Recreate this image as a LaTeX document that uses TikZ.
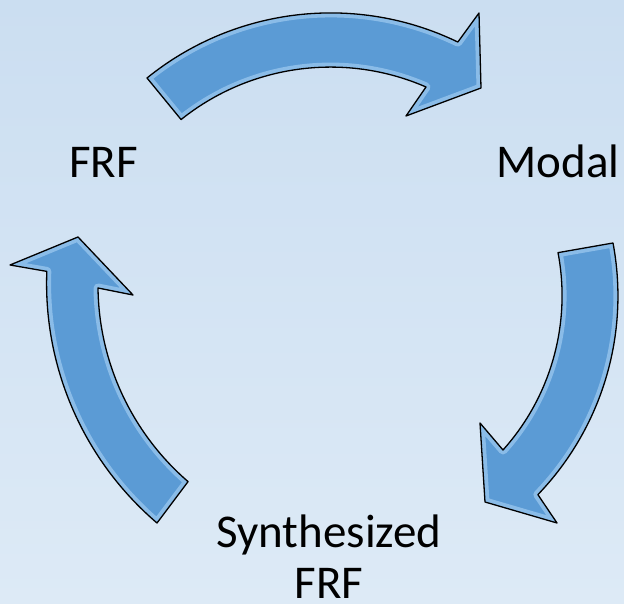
\documentclass[tikz,border=0pt]{standalone}
\usepackage{fontspec}
\setmainfont{Carlito}
\definecolor{bgtop}{HTML}{CBDEF1}
\definecolor{bgbot}{HTML}{DDEAF6}
\definecolor{arrowblue}{HTML}{5B9BD5}
\definecolor{rimblue}{HTML}{B2D8F8}
\tikzset{
  lbl/.style={font=\fontsize{47}{56}\selectfont, anchor=base, inner sep=0pt, text=black},
  arrowfill/.style={fill=arrowblue},
  arrowrim/.style={draw=rimblue, line width=9pt, opacity=0.55, line join=round},
  arrowline/.style={draw=black, line width=1.3pt, line join=round}
}
\newcommand\glossyarrow[1]{%
  \path[arrowfill] #1;
  \begin{scope}
    \clip #1;
    \path[arrowrim] #1;
  \end{scope}
  \path[arrowline] #1;
}
\begin{document}
\begin{tikzpicture}[x=1pt,y=1pt]
\useasboundingbox (0,0) rectangle (624,604);
\shade[top color=bgtop,bottom color=bgbot] (0,0) rectangle (624,604);

% top arrow (FRF -> Modal)
\glossyarrow{(147,526) arc[start angle=129, end angle=64.2, radius=292pt] -- (479,591) -- (481,516) -- (406,488) -- (426,517) arc[start angle=66.45, end angle=128.7, radius=239pt] -- cycle}

% right arrow (Modal -> Synthesized FRF)
\glossyarrow{(613,361) arc[start angle=10.66, end angle=-43.9, radius=286.5pt] -- (557,81) -- (485,102) -- (480,181) -- (503,154) arc[start angle=-41.9, end angle=10.75, radius=231pt] -- cycle}

% left arrow (Synthesized FRF -> FRF)
\glossyarrow{(157,81) arc[start angle=229.5, end angle=177.8, radius=315pt] -- (10,339) -- (78,367) -- (133,309) -- (98,316) arc[start angle=180.7, end angle=229.2, radius=260pt] -- cycle}

\node[lbl] (frf) at (103.5,426) {FRF};
\node[lbl] (modal) at (558,426) {Modal};
\node[lbl] (synth) at (329,56) {Synthesized};
\node[lbl, text depth=0pt] (frf2) at (329,5) {FRF};
\end{tikzpicture}
\end{document}
